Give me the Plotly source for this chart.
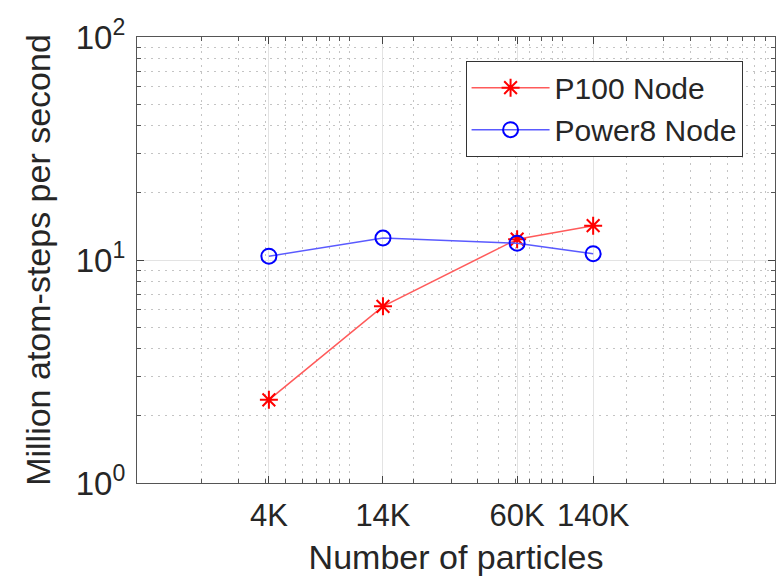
import plotly.graph_objects as go

particles = [4170, 14340, 61300, 139600]
tick_labels = ["4K", "14K", "60K", "140K"]
p100 = [2.36, 6.2, 12.4, 14.25]
power8 = [10.4, 12.55, 11.9, 10.67]

y_ticks = [1, 10, 100]
y_tick_labels = ["10<sup>0</sup>", "10<sup>1</sup>", "10<sup>2</sup>"]

x_minor = [m * 10 ** e for e in range(3, 6) for m in range(2, 10)] + [10000, 100000]
y_minor = [m * 10 ** e for e in range(0, 2) for m in range(2, 10)]

font = "Liberation Sans, Arial, Helvetica, sans-serif"
txt = "#262626"

fig = go.Figure()
fig.add_trace(go.Scatter(
    x=particles, y=p100, name="P100 Node", mode="lines+markers",
    line=dict(color="rgb(255,90,90)", width=1.5),
    marker=dict(symbol="asterisk-open", size=15, color="red", line=dict(width=2, color="red")),
))
fig.add_trace(go.Scatter(
    x=particles, y=power8, name="Power8 Node", mode="lines+markers",
    line=dict(color="rgb(90,90,255)", width=1.5),
    marker=dict(symbol="circle-open", size=15, color="blue", line=dict(width=2, color="blue")),
))

axis_common = dict(
    type="log",
    showline=True, linecolor="#555555", linewidth=1.2, mirror="allticks",
    ticks="inside", ticklen=7, tickcolor="#444444", tickwidth=1,
    showgrid=True, gridcolor="#e3e3e3", gridwidth=1,
    zeroline=False,
)
minor_common = dict(tickmode="array", ticks="inside", ticklen=4, tickcolor="#555555",
                    showgrid=True, gridcolor="#c4c4c4", griddash="2px,5px", gridwidth=1)

fig.update_xaxes(
    **axis_common,
    range=[3, 6],
    tickmode="array", tickvals=particles, ticktext=tick_labels,
    tickfont=dict(family=font, size=31, color=txt),
    ticklabelstandoff=5,
    minor=dict(tickvals=x_minor, **minor_common),
    title=dict(text="Number of particles", font=dict(family=font, size=34, color=txt), standoff=12),
)
fig.update_yaxes(
    **axis_common,
    range=[0, 2],
    tickmode="array", tickvals=y_ticks, ticktext=y_tick_labels,
    tickfont=dict(family=font, size=33, color=txt),
    ticklabelstandoff=4,
    minor=dict(tickvals=y_minor, **minor_common),
    title=dict(text="Million atom-steps per second", font=dict(family=font, size=34, color=txt), standoff=14),
)

fig.update_layout(
    width=782, height=578,
    margin=dict(l=137, r=7, t=37, b=95),
    paper_bgcolor="white", plot_bgcolor="white",
    font=dict(family=font, color=txt),
    legend=dict(
        x=0.515, y=0.947, xanchor="left", yanchor="top",
        bgcolor="white", bordercolor="#333333", borderwidth=1,
        font=dict(family=font, size=30, color=txt),
        itemwidth=78, tracegroupgap=0,
    ),
)

fig.write_html("out.html")
